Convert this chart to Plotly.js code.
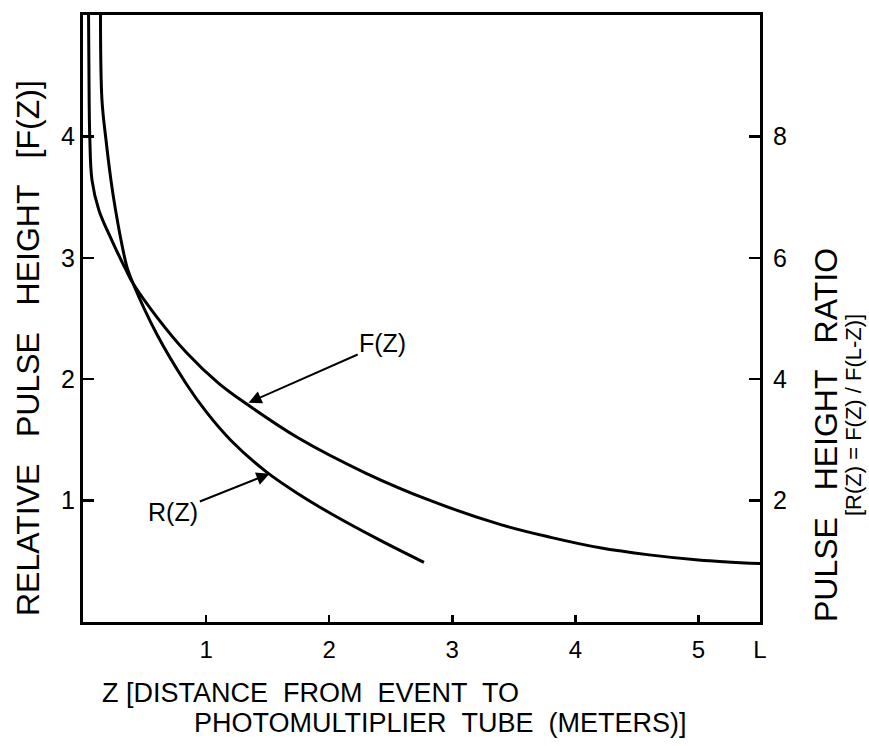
<!DOCTYPE html>
<html>
<head>
<meta charset="utf-8">
<script src="https://cdn.plot.ly/plotly-3.0.1.min.js"></script>
<style>html,body{margin:0;padding:0;background:#fff;}</style>
</head>
<body>
<div id="chart" style="width:869px;height:746px;"></div>
<script>
// F(Z): relative pulse height (left axis)
var fZ = [0.045, 0.05, 0.055, 0.073, 0.13, 0.236, 0.349, 0.406, 0.60, 0.84, 1.10, 1.33, 1.75, 2.30, 2.835, 3.40, 3.80, 4.20, 4.60, 5.00, 5.50];
var fVal = [5.0, 4.30, 4.00, 3.64, 3.39, 3.14, 2.90, 2.79, 2.512, 2.22, 1.968, 1.795, 1.515, 1.225, 0.995, 0.80, 0.697, 0.611, 0.553, 0.511, 0.481];
// R(Z) = F(Z)/F(L-Z): pulse height ratio (right axis)
var rZ = [0.142, 0.154, 0.187, 0.227, 0.264, 0.309, 0.357, 0.406, 0.60, 0.837, 1.00, 1.20, 1.487, 1.75, 2.02, 2.40, 2.77];
var rVal = [10.0, 8.60, 7.94, 7.28, 6.79, 6.29, 5.85, 5.58, 4.74, 3.93, 3.465, 2.995, 2.478, 2.11, 1.779, 1.361, 0.982];
// tick labels
var xTickVals = [1, 2, 3, 4, 5, 5.5];
var xTickText = ['1', '2', '3', '4', '5', 'L'];
var yTickVals = [1, 2, 3, 4];
var y2TickVals = [2, 4, 6, 8];

var FONT = 'Liberation Sans, Arial, sans-serif';
var SP = ' &nbsp;';
var SP3 = ' &nbsp;&nbsp;';

var traces = [
  {x: fZ, y: fVal, type: 'scatter', mode: 'lines', yaxis: 'y',
   line: {color: '#000', width: 3, shape: 'spline', smoothing: 1.0}, hoverinfo: 'skip'},
  {x: rZ, y: rVal, type: 'scatter', mode: 'lines', yaxis: 'y2',
   line: {color: '#000', width: 3, shape: 'spline', smoothing: 1.0}, hoverinfo: 'skip'}
];

var layout = {
  width: 869, height: 746,
  margin: {l: 83, r: 109, t: 15, b: 124, pad: 0},
  paper_bgcolor: '#fff', plot_bgcolor: '#fff',
  showlegend: false,
  font: {family: FONT, color: '#000', size: 24},
  xaxis: {
    range: [0, 5.5], showgrid: false, zeroline: false,
    showline: true, linecolor: '#000', linewidth: 3, mirror: true,
    ticks: 'inside', ticklen: 7, tickwidth: 2.5, tickcolor: '#000',
    tickvals: xTickVals, ticktext: xTickText,
    tickfont: {family: FONT, size: 24, color: '#000'}, ticklabelstandoff: 4
  },
  yaxis: {
    range: [0, 5.0], showgrid: false, zeroline: false,
    showline: true, linecolor: '#000', linewidth: 3, mirror: true,
    ticks: 'inside', ticklen: 11, tickwidth: 2.5, tickcolor: '#000',
    tickvals: yTickVals,
    tickfont: {family: FONT, size: 25, color: '#000'}, ticklabelstandoff: 0
  },
  yaxis2: {
    range: [0, 10.0], overlaying: 'y', side: 'right',
    showgrid: false, zeroline: false,
    showline: true, linecolor: '#000', linewidth: 3,
    ticks: 'inside', ticklen: 11, tickwidth: 2.5, tickcolor: '#000',
    tickvals: y2TickVals,
    tickfont: {family: FONT, size: 25, color: '#000'}, ticklabelstandoff: 5
  },
  annotations: [
    {xref: 'paper', yref: 'paper', x: -0.0812, y: 0.4514, xanchor: 'center', yanchor: 'middle',
     textangle: -90, showarrow: false,
     text: 'RELATIVE' + SP3 + 'PULSE' + SP3 + 'HEIGHT' + SP3 + '[F(Z)]',
     font: {family: FONT, size: 32, color: '#000'}},
    {xref: 'paper', yref: 'paper', x: 1.0974, y: 0.308, xanchor: 'center', yanchor: 'middle',
     textangle: -90, showarrow: false,
     text: 'PULSE' + SP3 + 'HEIGHT' + SP3 + 'RATIO',
     font: {family: FONT, size: 32, color: '#000'}},
    {xref: 'paper', yref: 'paper', x: 1.1374, y: 0.341, xanchor: 'center', yanchor: 'middle',
     textangle: -90, showarrow: false,
     text: '[R(Z) = F(Z) / F(L-Z)]',
     font: {family: FONT, size: 22, color: '#000'}},
    {xref: 'paper', yref: 'paper', x: 0.0251, y: -0.117, xanchor: 'left', yanchor: 'middle',
     showarrow: false,
     text: 'Z [DISTANCE' + SP + 'FROM' + SP + 'EVENT' + SP + 'TO',
     font: {family: FONT, size: 27, color: '#000'}},
    {xref: 'paper', yref: 'paper', x: 0.161, y: -0.1664, xanchor: 'left', yanchor: 'middle',
     showarrow: false,
     text: 'PHOTOMULTIPLIER' + SP + 'TUBE' + SP + '(METERS)]',
     font: {family: FONT, size: 27, color: '#000'}},
    {xref: 'x', yref: 'y', x: 1.33, y: 1.80, ax: 136, ay: -60,
     text: 'F(Z)', showarrow: true, arrowhead: 2, arrowsize: 1.3, arrowwidth: 2, arrowcolor: '#000',
     standoff: 2, font: {family: FONT, size: 25, color: '#000'}},
    {xref: 'x', yref: 'y', x: 1.53, y: 1.227, ax: -98, ay: 39,
     text: 'R(Z)', showarrow: true, arrowhead: 2, arrowsize: 1.3, arrowwidth: 2, arrowcolor: '#000',
     standoff: 2, font: {family: FONT, size: 25, color: '#000'}}
  ]
};

Plotly.newPlot('chart', traces, layout, {staticPlot: true, displayModeBar: false});
</script>
</body>
</html>
